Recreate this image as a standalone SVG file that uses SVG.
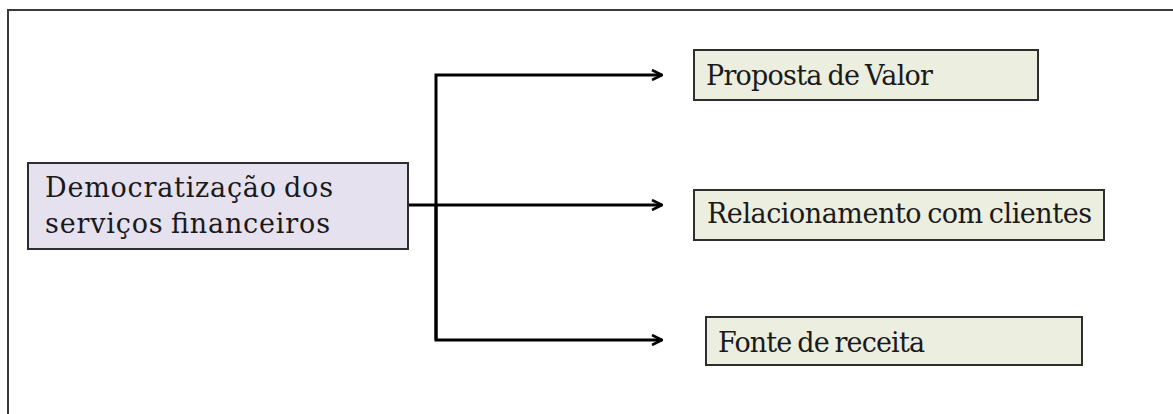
<svg xmlns="http://www.w3.org/2000/svg" width="1173" height="414" viewBox="0 0 1173 414">
  <defs>
    <style>
      .frame { fill: none; stroke: #3a3a3a; stroke-width: 2; }
      .box { stroke: #2e2e2e; stroke-width: 2; }
      .src { fill: #e6e1ee; }
      .dst { fill: #eceee0; }
      .label { font-family: "DejaVu Serif", "Liberation Serif", serif; font-size: 27px; fill: #1a1a1a; word-spacing: -2px; }
      .wire { fill: none; stroke: #000; stroke-width: 3; stroke-linejoin: miter; }
    </style>
    <marker id="arrow" viewBox="0 0 12 12" refX="11" refY="6" markerWidth="12" markerHeight="12" markerUnits="userSpaceOnUse" orient="auto">
      <path d="M1,1 L11,6 L1,11" fill="none" stroke="#000" stroke-width="2.6"/>
    </marker>
  </defs>

  <rect x="0" y="0" width="1173" height="414" fill="#ffffff"/>
  <!-- outer frame (right side runs past the canvas) -->
  <rect class="frame" x="8" y="10" width="1180" height="420"/>

  <!-- connectors: branch from the source box to the three targets -->
  <g id="connectors">
    <path class="wire" d="M408,205 H662" marker-end="url(#arrow)"/>
    <path class="wire" d="M436,340 V75 H662" marker-end="url(#arrow)"/>
    <path class="wire" d="M436,205 V340 H662" marker-end="url(#arrow)"/>
  </g>

  <g id="node-democratizacao">
    <rect class="box src" x="28" y="163" width="380" height="86"/>
    <text class="label" x="45" y="197" textLength="288">Democratização dos</text>
    <text class="label" x="45" y="233" textLength="285">serviços financeiros</text>
  </g>

  <g id="node-proposta">
    <rect class="box dst" x="694" y="50" width="344" height="50"/>
    <text class="label" x="706" y="85" textLength="227">Proposta de Valor</text>
  </g>

  <g id="node-relacionamento">
    <rect class="box dst" x="694" y="190" width="410" height="50"/>
    <text class="label" x="707" y="223" textLength="385">Relacionamento com clientes</text>
  </g>

  <g id="node-fonte">
    <rect class="box dst" x="706" y="317" width="376" height="48"/>
    <text class="label" x="718" y="352" textLength="207">Fonte de receita</text>
  </g>
</svg>
